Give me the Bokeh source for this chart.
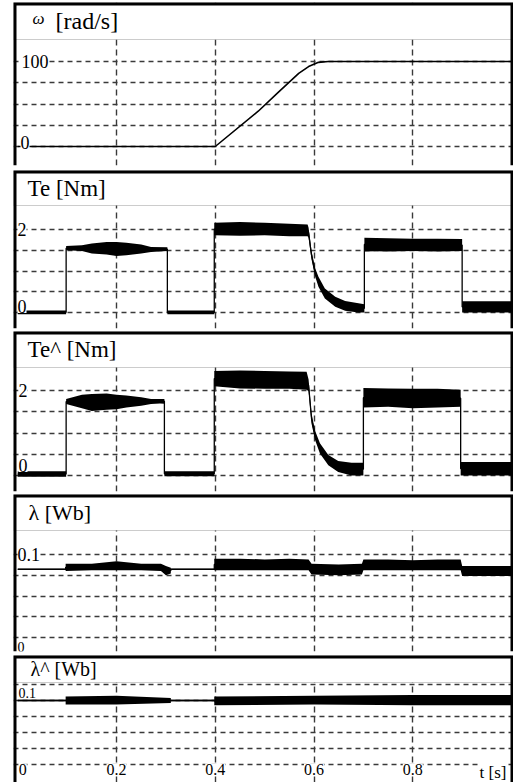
from bokeh.plotting import figure
from bokeh.models import FixedTicker, BoxAnnotation, Range1d
from bokeh.layouts import column
from bokeh.core.properties import value
from bokeh.embed import file_html
from bokeh.resources import INLINE

# ---------------- data ----------------
# speed omega [rad/s]
w_t = [0.0, 0.400, 0.487, 0.528, 0.569, 0.589, 0.609, 0.629, 0.71, 1.0]
w_v = [0, 0, 41.5, 64, 86, 94, 99, 100, 100, 100]

# torque Te [Nm] : time, lower / upper envelope of the trace
te_t = [0.0, 0.098, 0.098, 0.13, 0.15, 0.18, 0.20, 0.22, 0.25, 0.27, 0.303, 0.303,
        0.398, 0.398, 0.45, 0.50, 0.55, 0.587, 0.589, 0.595, 0.602, 0.609, 0.622,
        0.643, 0.663, 0.690, 0.702, 0.702, 0.75, 0.80, 0.85, 0.90, 0.90, 0.95, 1.0]
te_lo = [-0.04, -0.04, 1.50, 1.48, 1.42, 1.40, 1.36, 1.38, 1.42, 1.46, 1.48, -0.04,
         -0.04, 1.86, 1.85, 1.86, 1.84, 1.84, 1.80, 1.28, 0.88, 0.62, 0.34,
         0.14, 0.04, 0.0, 0.0, 1.48, 1.47, 1.48, 1.47, 1.48, 0.0, 0.0, 0.0]
te_hi = [0.05, 0.05, 1.60, 1.62, 1.66, 1.70, 1.70, 1.68, 1.64, 1.58, 1.57, 0.05,
         0.05, 2.16, 2.18, 2.16, 2.14, 2.12, 2.04, 1.48, 1.08, 0.86, 0.58,
         0.38, 0.28, 0.22, 0.20, 1.80, 1.79, 1.78, 1.78, 1.77, 0.27, 0.27, 0.27]

# estimated torque Te^ [Nm]
teh_t = [0.0, 0.098, 0.098, 0.13, 0.15, 0.18, 0.20, 0.22, 0.25, 0.27, 0.297, 0.297,
         0.398, 0.398, 0.45, 0.50, 0.55, 0.585, 0.589, 0.595, 0.602, 0.612, 0.629,
         0.649, 0.676, 0.700, 0.700, 0.75, 0.80, 0.85, 0.897, 0.897, 0.95, 1.0]
teh_lo = [-0.03, -0.03, 1.68, 1.58, 1.52, 1.55, 1.56, 1.60, 1.64, 1.68, 1.70, -0.02,
          -0.02, 2.10, 2.05, 2.04, 2.04, 2.02, 1.98, 1.22, 0.84, 0.52, 0.24,
          0.08, 0.0, 0.0, 1.60, 1.62, 1.58, 1.60, 1.62, 0.0, 0.0, 0.0]
teh_hi = [0.10, 0.10, 1.80, 1.90, 1.92, 1.93, 1.90, 1.88, 1.84, 1.80, 1.80, 0.10,
          0.10, 2.46, 2.47, 2.46, 2.45, 2.44, 2.26, 1.46, 1.06, 0.76, 0.48,
          0.34, 0.30, 0.30, 2.06, 2.05, 2.04, 2.04, 2.02, 0.32, 0.32, 0.32]

# flux lambda [Wb]
lam_t = [0.0, 0.097, 0.097, 0.15, 0.20, 0.25, 0.29, 0.30, 0.31, 0.31, 0.398, 0.398,
         0.45, 0.50, 0.55, 0.589, 0.595, 0.65, 0.697, 0.700, 0.75, 0.80, 0.85,
         0.897, 0.900, 0.95, 1.0]
lam_lo = [0.0813, 0.0813, 0.080, 0.081, 0.081, 0.081, 0.080, 0.075, 0.077, 0.0813,
          0.0813, 0.081, 0.081, 0.081, 0.081, 0.081, 0.076, 0.075, 0.076, 0.081,
          0.081, 0.081, 0.081, 0.081, 0.074, 0.074, 0.074]
lam_hi = [0.0830, 0.0830, 0.089, 0.089, 0.092, 0.089, 0.089, 0.086, 0.084, 0.0830,
          0.0830, 0.095, 0.095, 0.094, 0.095, 0.094, 0.089, 0.088, 0.089, 0.094,
          0.094, 0.093, 0.094, 0.094, 0.086, 0.086, 0.086]

# estimated flux lambda^ [Wb]
lamh_t = [0.0, 0.097, 0.097, 0.20, 0.31, 0.31, 0.398, 0.398, 0.60, 0.80, 1.0]
lamh_lo = [0.079, 0.079, 0.075, 0.075, 0.077, 0.079, 0.079, 0.074, 0.075, 0.074, 0.074]
lamh_hi = [0.081, 0.081, 0.085, 0.086, 0.083, 0.081, 0.081, 0.085, 0.086, 0.087, 0.087]

# grids / tick labels
x_grid = [0.2, 0.4, 0.6, 0.8]
x_tick_vals = [0.2, 0.4, 0.6, 0.8]
x_tick_labels = ["0.2", "0.4", "0.6", "0.8"]
w_grid = [0, 25, 50, 75, 100]
te_grid = [0, 0.5, 1.0, 1.5, 2.0]
lam_grid = [0, 0.025, 0.05, 0.075, 0.1]
lamh_grid = [0, 0.02, 0.04, 0.06, 0.08, 0.1]

# ---------------- layout ----------------
X0, X1 = -0.0086, 1.004
W = 513
ML, MR = 13, 0
FW = W - ML - MR
SERIF = value("serif")
GRID_COLOR = "#3a3a3a"


def px2t(px):
    return X0 + px / FW * (X1 - X0)


def panel(fh, mb_top, mb_bot, p_sep, p_top, p_zero, v_top, ygrid, title_parts):
    k = (p_zero - p_top) / v_top
    y_end = p_zero / k
    y_start = -(fh - p_zero) / k
    sep = (p_zero - p_sep) / k
    p = figure(width=W, height=fh + mb_top + mb_bot,
               x_range=Range1d(X0, X1), y_range=Range1d(y_start, y_end),
               output_backend="svg", toolbar_location=None,
               x_axis_location=None, y_axis_location=None,
               min_border_left=ML, min_border_right=MR,
               min_border_top=mb_top, min_border_bottom=mb_bot,
               background_fill_color="white", border_fill_color="white",
               outline_line_color=None)
    p.xgrid.ticker = FixedTicker(ticks=x_grid)
    p.ygrid.ticker = FixedTicker(ticks=ygrid)
    p.xgrid.grid_line_color = GRID_COLOR
    p.xgrid.grid_line_dash = "6 4"
    p.xgrid.grid_line_width = 1.4
    p.ygrid.grid_line_color = GRID_COLOR
    p.ygrid.grid_line_dash = "5 4"
    p.ygrid.grid_line_width = 1.4
    box = BoxAnnotation(bottom=sep, fill_color="white", fill_alpha=1.0,
                        line_color="#555555", line_width=1.2, level="underlay")
    p.add_layout(box)
    # thick panel frame: left, top, right (open at the bottom); half is clipped
    p.line(x=[X0, X0, X1, X1], y=[y_start, y_end, y_end, y_start],
           line_color="black", line_width=6, line_join="miter")
    ymid = (sep + y_end) / 2
    for txt, px, size, yoff, style in title_parts:
        p.text(x=[px2t(px)], y=[ymid], text=[txt], text_font=SERIF,
               text_font_size=size, text_font_style=style, text_align="left",
               text_baseline="middle", y_offset=yoff, text_color="black")
    return p


def band(p, t, lo, hi):
    assert len(t) == len(lo) == len(hi)
    mid = [(a + b) / 2 for a, b in zip(lo, hi)]
    p.varea(x=t, y1=lo, y2=hi, fill_color="black")
    p.line(x=t, y=mid, line_color="black", line_width=1.3)


def ylab(p, yv, txt, px, baseline, yoff=0, size="18px"):
    p.text(x=[px2t(px)], y=[yv], text=[txt], text_font=SERIF, text_font_size=size,
           text_align="left", text_baseline=baseline, y_offset=yoff,
           background_fill_color="white", text_color="black")


# panel 1: omega
p1 = panel(163, 2, 5, 37, 59, 144, 100, w_grid,
           [("\u03c9", 19, "17px", -3, "italic"), ("[rad/s]", 42, "24px", 0, "normal")])
p1.line(x=w_t, y=w_v, line_color="black", line_width=1.6)
ylab(p1, w_grid[-1], "100", 8, "middle")
ylab(p1, w_grid[0], "0", 7, "alphabetic", -4)

# panel 2: Te
p2 = panel(158, 0, 3, 35, 59, 142, 2, te_grid, [("Te [Nm]", 14, "23px", 0, "normal")])
band(p2, te_t, te_lo, te_hi)
ylab(p2, te_grid[-1], "2", 4, "middle")
ylab(p2, te_grid[0], "0", 4, "alphabetic", -6)

# panel 3: Te^
p3 = panel(160, 0, 3, 36, 59, 144, 2, te_grid, [("Te^ [Nm]", 14, "23px", 0, "normal")])
band(p3, teh_t, teh_lo, teh_hi)
ylab(p3, te_grid[-1], "2", 5, "middle")
ylab(p3, te_grid[0], "0", 5, "alphabetic", -10)

# panel 4: lambda
p4 = panel(157, 0, 4, 36, 60, 143, 0.1, lam_grid, [("\u03bb [Wb]", 15, "22px", 0, "normal")])
band(p4, lam_t, lam_lo, lam_hi)
ylab(p4, lam_grid[-1], "0.1", 4, "middle")
ylab(p4, lam_grid[0], "0", 4, "alphabetic", 9, size="14px")

# panel 5: lambda^
p5 = panel(127, 0, 0, 27, 29, 109, 0.1, lamh_grid, [("\u03bb^ [Wb]", 17, "20px", 0, "normal")])
band(p5, lamh_t, lamh_lo, lamh_hi)
ylab(p5, lamh_grid[-1], "0.1", 5, "top", 3, size="14px")
p5.text(x=x_tick_vals, y=[0] * len(x_tick_vals), text=x_tick_labels, text_font=SERIF,
        text_font_size="16px", text_align="center", text_baseline="top", y_offset=-1,
        background_fill_color="white", text_color="black")
p5.text(x=[0.0], y=[0], text=["0"], text_font=SERIF, text_font_size="16px",
        text_align="left", text_baseline="top", y_offset=-1, x_offset=1,
        background_fill_color="white", text_color="black")
p5.text(x=[px2t(493)], y=[0], text=["t [s]"], text_font=SERIF, text_font_size="17px",
        text_align="right", text_baseline="top", y_offset=-2,
        background_fill_color="white", text_color="black")

layout = column(p1, p2, p3, p4, p5, spacing=0)
open("out.html", "w").write(file_html(layout, INLINE))
